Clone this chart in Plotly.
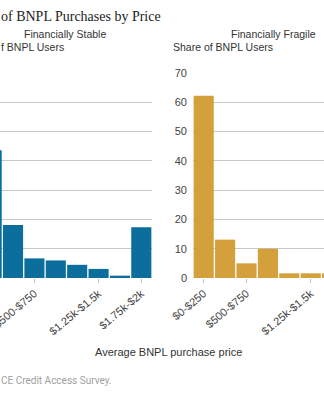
import plotly.graph_objects as go

categories = ["$0-$250", "$250-$500", "$500-$750", "$750-$1k", "$1k-$1.25k",
              "$1.25k-$1.5k", "$1.5k-$1.75k", "$1.75k-$2k"]
stable = [43.6, 18.1, 6.7, 6.0, 4.5, 3.1, 0.8, 17.3]
fragile = [62.2, 13.1, 5.0, 10.0, 1.6, 1.6, 1.6, 4.9]
tick_labels = ["$0-$250", "$500-$750", "$1.25k-$1.5k", "$1.75k-$2k"]
y_ticks = [0, 10, 20, 30, 40, 50, 60, 70]

BLUE = "#0b6e9c"
GOLD = "#d4a03b"
GRID = "#c8c8c8"
TXT = "#333333"

fig = go.Figure()
fig.add_trace(go.Bar(x=categories, y=stable, marker_color=BLUE, marker_line_width=0,
                     xaxis="x", yaxis="y", showlegend=False))
fig.add_trace(go.Bar(x=categories, y=fragile, marker_color=GOLD, marker_line_width=0,
                     xaxis="x2", yaxis="y2", showlegend=False))

xcommon = dict(type="category", categoryorder="array", categoryarray=categories,
               tickmode="array", tickvals=tick_labels, ticktext=tick_labels,
               tickangle=-40, ticks="outside", ticklen=4, tickcolor="#c0c0c0",
               showgrid=False, showline=False, zeroline=False, automargin=False,
               tickfont=dict(family="Liberation Sans", size=11, color="#444"))
ycommon = dict(range=[0, 70], tickvals=y_ticks, showgrid=True, gridcolor=GRID,
               gridwidth=1, zeroline=False, showline=False, ticks="", automargin=False,
               tickfont=dict(family="Liberation Sans", size=11, color="#444"))

fig.update_layout(
    width=324, height=400,
    margin=dict(l=0, r=0, t=73, b=122, autoexpand=False),
    paper_bgcolor="white", plot_bgcolor="white",
    bargap=0.06,
    xaxis=dict(domain=[0, 152 / 324], range=[0.39, 7.5], anchor="y", **xcommon),
    yaxis=dict(domain=[0, 1], anchor="x", showticklabels=False, **ycommon),
    xaxis2=dict(domain=[193 / 324, 1], range=[-0.5, 5.62], anchor="y2", **xcommon),
    yaxis2=dict(domain=[0, 1], anchor="x2", showticklabels=True, ticklabelstandoff=5, **ycommon),
)

sans = "Liberation Sans"
ann = [
    dict(text="of BNPL Purchases by Price", x=0, y=1.278, xanchor="left", yanchor="middle",
         font=dict(family="Liberation Serif", size=14, color="#222")),
    dict(text="Financially Stable", x=65 / 324, y=1.190, xanchor="center", yanchor="middle",
         font=dict(family=sans, size=10.5, color=TXT)),
    dict(text="Financially Fragile", x=273 / 324, y=1.190, xanchor="center", yanchor="middle",
         font=dict(family=sans, size=10.5, color=TXT)),
    dict(text="f BNPL Users", x=0, y=1.1244, xanchor="left", yanchor="middle",
         font=dict(family=sans, size=10.5, color=TXT)),
    dict(text="Share of BNPL Users", x=172 / 324, y=1.1244, xanchor="left", yanchor="middle",
         font=dict(family=sans, size=10.5, color=TXT)),
    dict(text="Average BNPL purchase price", x=168.5 / 324, y=-0.361, xanchor="center", yanchor="middle",
         font=dict(family=sans, size=11, color=TXT)),
    dict(text="CE Credit Access Survey.", x=0, y=-0.502, xanchor="left", yanchor="middle",
         font=dict(family="Roboto", size=10, color="#a0a0a0")),
]
for a in ann:
    a.update(xref="paper", yref="paper", showarrow=False, borderpad=0)
fig.update_layout(annotations=ann)

fig.write_html("out.html")
